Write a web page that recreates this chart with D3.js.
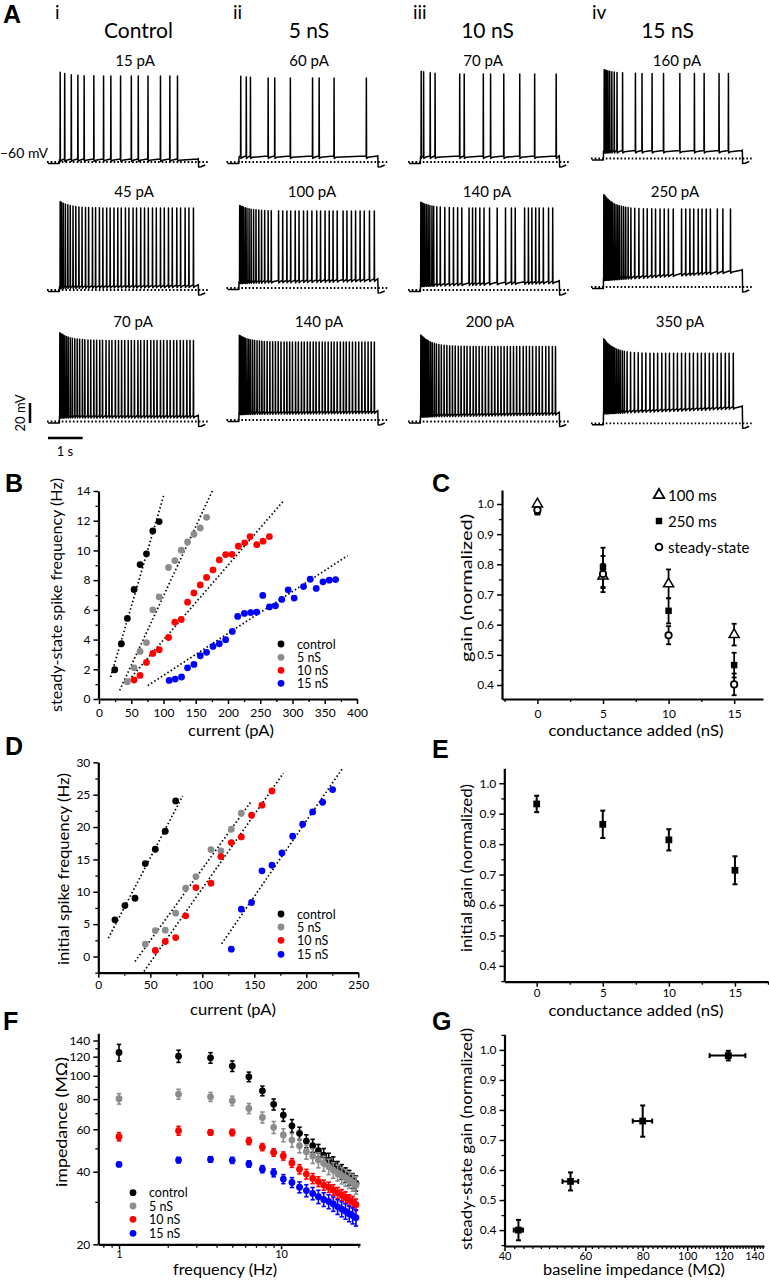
<!DOCTYPE html>
<html><head><meta charset="utf-8">
<script src="https://cdn.jsdelivr.net/npm/d3@7/dist/d3.min.js"></script>
<style>
html,body{margin:0;padding:0;background:#fff;}
svg{display:block;}
</style></head><body>
<svg id="fig" width="769" height="1280"></svg>
<script>
// ===================== DATA =====================
// ---- Panel A: example traces
const colTitles = ["Control", "5 nS", "10 nS", "15 nS"];
const colNumerals = ["i", "ii", "iii", "iv"];
const currentsRow1 = ["15 pA", "60 pA", "70 pA", "160 pA"];
const currentsRow2 = ["45 pA", "100 pA", "140 pA", "250 pA"];
const currentsRow3 = ["70 pA", "140 pA", "200 pA", "350 pA"];
// spike times (s after step onset); step lasts 4 s
const spikesR1C1 = [0.02,0.15,0.34,0.53,0.71,0.99,1.27,1.48,1.76,2.07,2.27,2.55,2.91,3.18,3.40];
const spikesR1C2 = [0.05,0.21,0.33,0.84,1.03,1.48,2.12,2.31,2.74,3.67];
const spikesR1C3 = [0.02,0.09,0.28,0.42,1.13,1.26,1.81,2.02,2.40,2.86,3.29,3.91];
const spikesR1C4 = [0.02,0.05,0.09,0.13,0.18,0.24,0.31,0.39,0.55,0.92,1.11,1.40,1.73,2.20,2.62,2.90,3.33,3.60];
const spikesR2C1 = [0.02,0.06,0.11,0.17,0.24,0.31,0.39,0.47,0.56,0.65,0.75,0.84,0.95,1.04,1.15,1.25,1.36,1.46,1.57,1.68,1.78,1.90,2.00,2.12,2.22,2.34,2.45,2.56,2.68,2.79,2.91,3.02,3.14,3.25,3.38,3.49,3.62,3.73,3.86];
const spikesR2C2 = [0.02,0.05,0.09,0.13,0.18,0.23,0.29,0.35,0.42,0.49,0.57,0.65,0.74,0.84,0.93,1.14,1.26,1.38,1.49,1.62,1.73,1.86,1.97,2.10,2.24,2.35,2.48,2.60,2.71,2.83,3.00,3.11,3.24,3.36,3.49,3.61,3.76,3.90];
const spikesR2C3 = [0.01,0.04,0.08,0.12,0.17,0.22,0.27,0.33,0.38,0.47,0.57,0.70,0.83,0.95,1.07,1.19,1.40,1.50,1.59,1.71,1.83,1.99,2.21,2.45,2.62,2.73,3.00,3.11,3.21,3.32,3.42,3.54,3.69,3.81];
const spikesR2C4 = [0.01,0.04,0.07,0.10,0.14,0.18,0.22,0.26,0.31,0.36,0.41,0.46,0.52,0.58,0.64,0.71,0.79,0.90,1.02,1.15,1.26,1.39,1.50,1.63,1.75,1.87,2.01,2.25,2.37,2.49,2.60,2.73,2.84,2.96,3.08,3.28,3.44,3.66];
const spikesR3C1 = [0.01,0.04,0.08,0.11,0.15,0.20,0.25,0.31,0.37,0.44,0.51,0.58,0.66,0.73,0.82,0.90,0.99,1.07,1.16,1.24,1.34,1.43,1.51,1.61,1.70,1.79,1.88,1.98,2.07,2.16,2.26,2.34,2.44,2.53,2.63,2.72,2.81,2.91,3.00,3.10,3.19,3.29,3.38,3.48,3.57,3.67,3.76,3.86];
const spikesR3C2 = [0.01,0.04,0.07,0.10,0.14,0.18,0.23,0.28,0.33,0.39,0.45,0.52,0.59,0.66,0.73,0.81,0.89,0.97,1.05,1.13,1.21,1.30,1.38,1.46,1.54,1.63,1.71,1.80,1.88,1.97,2.05,2.14,2.22,2.31,2.40,2.48,2.57,2.66,2.74,2.83,2.92,3.01,3.09,3.18,3.27,3.36,3.45,3.54,3.63,3.72,3.81,3.90];
const spikesR3C3 = [0.01,0.03,0.06,0.09,0.12,0.16,0.20,0.24,0.29,0.34,0.40,0.46,0.53,0.60,0.68,0.76,0.84,0.92,1.00,1.09,1.17,1.26,1.34,1.43,1.52,1.60,1.69,1.78,1.87,1.96,2.05,2.14,2.23,2.32,2.41,2.50,2.59,2.68,2.77,2.86,2.96,3.05,3.14,3.23,3.33,3.42,3.51,3.61,3.70,3.80,3.89];
const spikesR3C4 = [0.01,0.03,0.05,0.08,0.11,0.14,0.17,0.21,0.25,0.29,0.33,0.38,0.43,0.48,0.54,0.60,0.68,0.78,0.89,1.00,1.11,1.22,1.34,1.45,1.56,1.68,1.79,1.90,2.02,2.13,2.25,2.36,2.48,2.59,2.71,2.82,2.93,3.05,3.16,3.28,3.39,3.51,3.62,3.74];
// first / late spike peak (mV above -60 mV), plateau depolarisation at start / end of step (mV above -60 mV)
const peakFirstRow1 = [90, 86, 91, 89],   peakLateRow1 = [86, 84, 88, 85];
const peakFirstRow2 = [89, 83, 88, 93],   peakLateRow2 = [82, 77, 82, 78];
const peakFirstRow3 = [89, 85, 87, 85],   peakLateRow3 = [81, 78, 75, 70];
const plateauStartRow1 = [2, 5, 5, 7],    plateauEndRow1 = [2, 5, 5, 7];
const plateauStartRow2 = [3, 6, 5, 8],    plateauEndRow2 = [4, 8, 8, 16];
const plateauStartRow3 = [5, 7, 6, 11],   plateauEndRow3 = [5, 8, 8, 16];

// ---- legend / series
const seriesNames = ["control", "5 nS", "10 nS", "15 nS"];

// ---- Panel B: steady-state f-I
const bControlI = [24.4,34.7,44,54.4,63.7,73.6,83.4,93.3];
const bControlF = [1.97,3.72,5.42,7.37,9.05,9.77,11.31,11.94];
const b5nsI = [44,54.4,63.7,73.6,83.4,93.3,107.8,117.6,127.5,137.3,147.2,157,166.8];
const b5nsF = [1.16,2.1,3.2,3.8,6.0,6.87,8.85,9.32,10.02,10.57,11.09,11.51,12.23];
const b10nsI = [54.4,63.7,73.6,83.4,93.3,107.8,117.6,127.5,137.3,147.2,157,166.8,176.7,186.5,196.4,206.2,216.1,225.9,234.2,244.6,254.4,264.2];
const b10nsF = [1.28,1.59,2.46,3.07,3.32,4.14,5.17,5.35,6.52,7.14,7.68,8.18,8.69,9.36,9.72,9.74,10.28,10.51,10.93,10.39,10.62,10.93];
const b15nsI = [108.8,118.1,128,137.3,147.2,157,166.8,176.7,186.5,196.4,206.7,215,225.4,235.2,244.6,253.9,264.2,273.6,283.4,293.3,302.6,317.1,327.5,336.8,347.2,357,366.8];
const b15nsF = [1.25,1.34,1.48,2.1,2.33,2.91,3.14,3.54,3.72,3.99,4.55,5.56,5.76,5.82,5.85,6.97,6.2,6.27,6.7,7.35,6.79,7.57,8.06,7.44,7.89,8.0,8.04];
// linear fits [I1, f1, I2, f2]
const bFitControl = [18.1, 1.48, 100.5, 13.73];
const bFit5ns = [32, 0.58, 175.6, 14.0];
const bFit10ns = [42.5, 1.08, 285, 13.28];
const bFit15ns = [75.6, 0.9, 385.5, 9.65];
const bYTicks = [0,2,4,6,8,10,12,14];
const bXTicks = [0,50,100,150,200,250,300,350,400];

// ---- Panel C: gain vs conductance
const condAdded = [0, 5, 10, 15];
const gain100ms = [1.0, 0.761, 0.735, 0.567];
const gain100msErr = [0.005, 0.04, 0.048, 0.036];
const gain250ms = [0.975, 0.79, 0.646, 0.466];
const gain250msErr = [0.01, 0.065, 0.042, 0.041];
const gainSteady = [0.98, 0.768, 0.565, 0.402];
const gainSteadyErr = [0.01, 0.06, 0.03, 0.036];
const gainTicks = [0.4,0.5,0.6,0.7,0.8,0.9,1.0];
const gainLegend = ["100 ms", "250 ms", "steady-state"];

// ---- Panel D: initial f-I
const dControlI = [16,25.6,35.3,45.2,54.8,64.4,74.4];
const dControlF = [5.66,7.87,9.0,14.36,16.57,19.35,24.03];
const d5nsI = [45.2,54.8,64.4,74.4,84,93.9,108.3,117.9,127.9,137.5];
const d5nsF = [1.9,4.01,4.07,6.69,10.55,12.35,16.52,16.31,19.66,22.13];
const d10nsI = [54.8,64.4,74.4,84,93.9,108.3,117.9,127.9,137.5,147.4,157.4,167];
const d10nsF = [0.93,2.32,2.93,6.28,10.65,11.32,15.44,17.6,18.48,21.82,23.37,25.58];
const d15nsI = [127.9,137.5,147.4,157.4,167,176.6,186.9,196.5,206.1,215.7,225.3];
const d15nsF = [1.13,7.31,8.34,13.23,14.1,16.0,18.58,20.43,22.34,23.83,25.78];
const dFitControl = [9.6, 2.83, 81.1, 24.8];
const dFit5ns = [35.3, -0.77, 147.4, 24.03];
const dFit10ns = [43.9, -2.3, 177.9, 28.3];
const dFit15ns = [118.6, 1.96, 234.9, 29.08];
const dYTicks = [0,5,10,15,20,25,30];
const dXTicks = [0,50,100,150,200,250];

// ---- Panel E: initial gain
const initGain = [0.932, 0.865, 0.814, 0.714];
const initGainErr = [0.027, 0.045, 0.035, 0.046];

// ---- Panel F: impedance vs frequency
const freqHz = [1,2.33,3.67,5,6.33,7.67,9,10.33,11.67,13,14.33,15.67,17,18.33,19.67,21,22.33,23.67,25,26.33,27.67,29];
const zControl = [124.9,120.6,118.7,109.7,99.0,86.6,76.1,68.7,62.0,57.7,53.6,51.3,48.9,46.9,44.7,43.1,41.3,40.0,38.8,37.8,36.7,35.8];
const zControlErr = [10,7,6,5.5,4.5,4,4,4,3.8,3.5,3.3,3.2,3,3,3,3,2.8,2.8,2.7,2.7,2.6,2.6];
const z5ns = [80.3,83.9,81.8,78.8,73.2,67.2,61.1,56.8,54.1,51.3,48.4,46.5,44.7,43.3,42.0,40.6,39.6,38.6,37.8,37.0,36.1,35.2];
const z5nsErr = [4,4,3.5,3.5,3.5,3.5,3.5,3.5,3.5,3.4,3.3,3.2,3.2,3.1,3.1,3,3,3,3,2.9,2.9,2.9];
const z10ns = [55.9,59.2,58.2,58.2,53.6,50.6,48.1,46.5,43.5,41.0,39.1,37.5,36.4,35.2,34.5,33.6,32.7,32.0,31.3,30.5,30.0,29.2];
const z10nsErr = [2.2,2.5,1.5,1.8,1.8,1.7,1.7,1.8,1.8,1.8,1.8,1.8,1.7,1.7,1.7,1.7,1.7,1.7,1.7,1.6,1.6,1.6];
const z15ns = [42.9,44.7,45.0,44.6,43.1,41.0,39.6,37.3,36.1,34.5,33.4,32.5,31.5,30.7,30.1,29.4,28.6,28.0,27.4,26.8,26.3,25.8];
const z15nsErr = [0.8,1.2,1.2,1.3,1.3,1.4,1.5,1.6,1.7,1.8,1.9,1.9,2,2,2,2,2,2,2,2,2,2];
const fYTicks = [20,40,60,80,100,120,140];
const fXTicks = [1,10];

// ---- Panel G: steady-state gain vs baseline impedance
const baseImp = [42.9, 55.7, 80.0, 122.9];
const baseImpErr = [1.0, 2.2, 3.9, 11];
const ssGain = [0.40, 0.562, 0.763, 0.981];
const ssGainErr = [0.034, 0.03, 0.052, 0.016];
const gXTicks = [40,60,80,100,120,140];

// ===================== STYLE / LAYOUT =====================
const FONT = "Lato, 'Noto Sans', 'DejaVu Sans', sans-serif";
const BOLD = "'Liberation Sans', Arial, sans-serif";
const COLORS = ["#000000", "#8c8c8c", "#ff0000", "#0000ff"];
const svg = d3.select("#fig");
svg.append("rect").attr("width", 769).attr("height", 1280).attr("fill", "#fff");

function txt(x, y, s, size, o = {}) {
  const t = svg.append("text").attr("x", x).attr("y", y).text(s)
    .attr("font-family", o.family || FONT).attr("font-size", size)
    .attr("text-anchor", o.anchor || "middle").attr("fill", "#000");
  if (o.weight) t.attr("font-weight", o.weight);
  if (o.baseline) t.attr("dominant-baseline", o.baseline);
  if (o.len) t.attr("textLength", o.len).attr("lengthAdjust", "spacingAndGlyphs");
  return t;
}
function vtitle(cx, cy, s, size, len) {
  svg.append("text").attr("transform", `translate(${cx},${cy}) rotate(-90)`)
    .attr("text-anchor", "middle").attr("dominant-baseline", "central")
    .attr("font-family", FONT).attr("font-size", size)
    .attr("textLength", len).attr("lengthAdjust", "spacingAndGlyphs").text(s);
}
function drawAxis(orient, scale, pos, majors, minors, fmt, o = {}) {
  const mk = orient === "left" ? d3.axisLeft : d3.axisBottom;
  const g = svg.append("g").attr("transform", orient === "left" ? `translate(${pos},0)` : `translate(0,${pos})`);
  if (minors && minors.length) {
    const gm = g.append("g").call(mk(scale).tickValues(minors).tickFormat("").tickSizeInner(o.minorLen || 3).tickSizeOuter(0));
    gm.select(".domain").remove();
    gm.selectAll("line").attr("stroke-width", 1.3);
  }
  const ga = g.append("g").call(mk(scale).tickValues(majors).tickFormat(fmt).tickSizeInner(o.len || 5).tickSizeOuter(0).tickPadding(o.pad || 3));
  ga.select(".domain").attr("stroke-width", 2.2).attr("stroke", "#000");
  ga.selectAll(".tick line").attr("stroke-width", 1.5);
  ga.selectAll(".tick text").attr("font-family", FONT).attr("font-size", o.fs || 12).attr("fill", "#000");
  return g;
}
function panelLetter(x, y, s) { txt(x, y, s, 25, { family: BOLD, weight: "bold", anchor: "start" }); }

// ===================== PANEL A =====================
panelLetter(3, 23, "A");
const colX0 = [59.5, 239, 420.5, 603.5];
const rowBase = [[162, 162, 162, 158.5], [290, 288, 290, 287], [421.5, 420, 421.5, 423.3]];
const labelY = [66, 197, 327];
const labelX = [[135, 309, 483, 677], [134, 312, 487, 675], [133, 319, 490, 680]];
const spikeSets = [[spikesR1C1, spikesR1C2, spikesR1C3, spikesR1C4],
                   [spikesR2C1, spikesR2C2, spikesR2C3, spikesR2C4],
                   [spikesR3C1, spikesR3C2, spikesR3C3, spikesR3C4]];
const peakFirst = [peakFirstRow1, peakFirstRow2, peakFirstRow3];
const peakLate = [peakLateRow1, peakLateRow2, peakLateRow3];
const platStart = [plateauStartRow1, plateauStartRow2, plateauStartRow3];
const platEnd = [plateauEndRow1, plateauEndRow2, plateauEndRow3];
const currents = [currentsRow1, currentsRow2, currentsRow3];
const PX_PER_S = 34.7;

const numX = [55, 233, 413, 592];
colNumerals.forEach((s, c) => txt(numX[c], 19, s, 19, { anchor: "start" }));
const titleX = [138.5, 309, 487.5, 667.5];
colTitles.forEach((s, c) => txt(titleX[c], 38, s, 21));

function traceData(spk, pf, pl, p0, p1) {
  const rest = -61.5;
  const plat = t => -60 + p0 + (p1 - p0) * Math.max(0, Math.min(4, t)) / 4;
  const pts = [[-0.33, rest], [-0.004, rest], [0.0, plat(0)]];
  spk.forEach((t, i) => {
    const next = i < spk.length - 1 ? spk[i + 1] : 4.0;
    const pk = -60 + pl + (pf - pl) * Math.exp(-t / 0.3);
    pts.push([t - 0.005, plat(t) + 1.5]);
    pts.push([t, pk]);
    pts.push([t + 0.006, plat(t) - 1.5]);
    const gap = next - t;
    if (gap > 0.06) {
      pts.push([t + Math.min(0.05, gap * 0.3), plat(t) - 0.3]);
      pts.push([next - 0.012, plat(next) + 1]);
    }
  });
  pts.push([3.99, plat(4)], [4.0, plat(4) + 1.5], [4.01, rest - 3.5], [4.08, rest - 3.2], [4.2, rest - 1.5]);
  return pts;
}

for (let r = 0; r < 3; r++) {
  for (let c = 0; c < 4; c++) {
    const base = rowBase[r][c];
    const xs = d3.scaleLinear().domain([0, 4]).range([colX0[c], colX0[c] + 4 * PX_PER_S]);
    const ys = d3.scaleLinear().domain([-60, 40]).range([base, base - 100]);
    svg.append("line").attr("x1", xs(-0.36)).attr("x2", xs(4.3)).attr("y1", ys(-60)).attr("y2", ys(-60))
      .attr("stroke", "#000").attr("stroke-width", 1.8).attr("stroke-dasharray", "1.6,2.1");
    const line = d3.line().x(d => xs(d[0])).y(d => ys(d[1]));
    svg.append("path").attr("d", line(traceData(spikeSets[r][c], peakFirst[r][c], peakLate[r][c], platStart[r][c], platEnd[r][c])))
      .attr("fill", "none").attr("stroke", "#000").attr("stroke-width", 1.5).attr("stroke-linejoin", "round");
    txt(labelX[r][c], labelY[r], currents[r][c], 15);
  }
}
txt(48, 158, "\u221260 mV", 14, { anchor: "end" });
// scale bars
{
  const ys = d3.scaleLinear().domain([0, 20]).range([423, 403]);
  const xs = d3.scaleLinear().domain([0, 1]).range([48, 48 + PX_PER_S]);
  svg.append("line").attr("x1", 30).attr("x2", 30).attr("y1", ys(0)).attr("y2", ys(20)).attr("stroke", "#000").attr("stroke-width", 2.5);
  svg.append("line").attr("x1", xs(0)).attr("x2", xs(1)).attr("y1", 438).attr("y2", 438).attr("stroke", "#000").attr("stroke-width", 2.5);
  svg.append("text").attr("transform", "translate(20,413) rotate(-90)").attr("text-anchor", "middle").attr("dominant-baseline", "central")
    .attr("font-family", FONT).attr("font-size", 13).text("20 mV");
  txt(65, 456, "1 s", 13);
}

// ===================== helpers for scatter panels =====================
function legend(x, ys, r) {
  seriesNames.forEach((s, i) => {
    svg.append("circle").attr("cx", x).attr("cy", ys[i]).attr("r", r).attr("fill", COLORS[i]);
    txt(x + 16, ys[i], s, 12.5, { anchor: "start", baseline: "central" });
  });
}
function dots(xs, ys, X, Y, color, r) {
  svg.append("g").selectAll("circle").data(X).join("circle")
    .attr("cx", (d) => xs(d)).attr("cy", (d, i) => ys(Y[i])).attr("r", r).attr("fill", color);
}
function fitLine(xs, ys, f) {
  svg.append("line").attr("x1", xs(f[0])).attr("y1", ys(f[1])).attr("x2", xs(f[2])).attr("y2", ys(f[3]))
    .attr("stroke", "#000").attr("stroke-width", 1.7).attr("stroke-dasharray", "1.5,2.4");
}
function vErr(xs, ys, X, Y, E, color, sw, cap) {
  const g = svg.append("g").attr("stroke", color).attr("stroke-width", sw);
  X.forEach((x, i) => {
    const px = xs(x), lo = ys(Y[i] - E[i]), hi = ys(Y[i] + E[i]);
    g.append("line").attr("x1", px).attr("x2", px).attr("y1", lo).attr("y2", hi);
    g.append("line").attr("x1", px - cap).attr("x2", px + cap).attr("y1", lo).attr("y2", lo);
    g.append("line").attr("x1", px - cap).attr("x2", px + cap).attr("y1", hi).attr("y2", hi);
  });
}

// ===================== PANEL B =====================
panelLetter(5, 492, "B");
{
  const xs = d3.scaleLinear().domain([0, 400]).range([99, 357]);
  const ys = d3.scaleLinear().domain([0, 14]).range([699, 491]);
  drawAxis("left", ys, 98.5, bYTicks, [1,3,5,7,9,11,13], d3.format("d"), { pad: 3 });
  drawAxis("bottom", xs, 699, bXTicks, [25,75,125,175,225,275,325,375], d3.format("d"), { pad: 4 });
  [bFitControl, bFit5ns, bFit10ns, bFit15ns].forEach(f => fitLine(xs, ys, f));
  dots(xs, ys, bControlI, bControlF, COLORS[0], 3.4);
  dots(xs, ys, b5nsI, b5nsF, COLORS[1], 3.4);
  dots(xs, ys, b10nsI, b10nsF, COLORS[2], 3.4);
  dots(xs, ys, b15nsI, b15nsF, COLORS[3], 3.4);
  legend(281, [644, 657.3, 670.3, 683.3], 3.4);
  vtitle(55, 595, "steady-state spike frequency (Hz)", 16, 234);
  txt(231, 736, "current (pA)", 16, { len: 86 });
}

// ===================== PANEL C =====================
panelLetter(432, 492, "C");
{
  const xs = d3.scaleLinear().domain([-2.7, 17.2]).range([502, 763]);
  const ys = d3.scaleLinear().domain([0.3536, 1.0464]).range([699, 490]);
  drawAxis("left", ys, 502, gainTicks, [0.35,0.45,0.55,0.65,0.75,0.85,0.95,1.05].filter(v => v >= 0.3536 && v <= 1.0464), d3.format(".1f"), { pad: 3 });
  drawAxis("bottom", xs, 699, condAdded, [-2.5, 2.5, 7.5, 12.5], d3.format("d"), { pad: 5 });
  vErr(xs, ys, condAdded, gain100ms, gain100msErr, "#000", 1.8, 2.5);
  vErr(xs, ys, condAdded, gain250ms, gain250msErr, "#000", 1.8, 2.5);
  vErr(xs, ys, condAdded, gainSteady, gainSteadyErr, "#000", 1.8, 2.5);
  const tri = d3.symbol(d3.symbolTriangle).size(44);
  const sq = d3.symbol(d3.symbolSquare).size(42);
  svg.append("g").selectAll("path").data(condAdded).join("path")
    .attr("transform", (d, i) => `translate(${xs(d)},${ys(gain100ms[i])})`).attr("d", tri)
    .attr("fill", "#fff").attr("stroke", "#000").attr("stroke-width", 1.5);
  svg.append("g").selectAll("path").data(condAdded).join("path")
    .attr("transform", (d, i) => `translate(${xs(d)},${ys(gain250ms[i])})`).attr("d", sq).attr("fill", "#000");
  svg.append("g").selectAll("circle").data(condAdded).join("circle")
    .attr("cx", d => xs(d)).attr("cy", (d, i) => ys(gainSteady[i])).attr("r", 3.2)
    .attr("fill", "#fff").attr("stroke", "#000").attr("stroke-width", 1.8);
  // legend
  svg.append("path").attr("transform", "translate(659,495)").attr("d", d3.symbol(d3.symbolTriangle).size(48)).attr("fill", "#fff").attr("stroke", "#000").attr("stroke-width", 1.8);
  svg.append("path").attr("transform", "translate(659,521)").attr("d", sq).attr("fill", "#000");
  svg.append("circle").attr("cx", 659).attr("cy", 547).attr("r", 3.4).attr("fill", "#fff").attr("stroke", "#000").attr("stroke-width", 1.8);
  gainLegend.forEach((s, i) => txt(668, [495, 521, 547][i], s, 15, { anchor: "start", baseline: "central" }));
  vtitle(465, 588, "gain (normalized)", 16, 148);
  txt(636, 736, "conductance added (nS)", 16, { len: 175 });
}

// ===================== PANEL D =====================
panelLetter(5, 755, "D");
{
  const xs = d3.scaleLinear().domain([0, 250]).range([98.3, 358.3]);
  const ys = d3.scaleLinear().domain([-2.5, 30]).range([972.7, 762.3]);
  drawAxis("left", ys, 98.3, dYTicks, [-2.5,2.5,7.5,12.5,17.5,22.5,27.5], d3.format("d"), { pad: 3 });
  drawAxis("bottom", xs, 972.7, dXTicks, [25,75,125,175,225], d3.format("d"), { pad: 3 });
  [dFitControl, dFit5ns, dFit10ns, dFit15ns].forEach(f => fitLine(xs, ys, f));
  dots(xs, ys, dControlI, dControlF, COLORS[0], 3.4);
  dots(xs, ys, d5nsI, d5nsF, COLORS[1], 3.4);
  dots(xs, ys, d10nsI, d10nsF, COLORS[2], 3.4);
  dots(xs, ys, d15nsI, d15nsF, COLORS[3], 3.4);
  legend(281, [914, 927, 940.3, 954.3], 3.4);
  vtitle(62, 869, "initial spike frequency (Hz)", 16, 192);
  txt(233, 1015, "current (pA)", 15.5, { len: 86 });
}

// ===================== PANEL E =====================
panelLetter(432, 758, "E");
{
  const xs = d3.scaleLinear().domain([-2.45, 17.5]).range([504.3, 768]);
  const ys = d3.scaleLinear().domain([0.348, 1.049]).range([981.7, 768.3]);
  drawAxis("left", ys, 504.3, gainTicks, [0.35,0.45,0.55,0.65,0.75,0.85,0.95,1.05].filter(v => v >= 0.348 && v <= 1.049), d3.format(".1f"), { pad: 3 });
  drawAxis("bottom", xs, 981.7, condAdded, [-2.5, 2.5, 7.5, 12.5, 17.5].filter(v => v >= -2.45 && v <= 17.5), d3.format("d"), { pad: 2, fs: 11.5 });
  vErr(xs, ys, condAdded, initGain, initGainErr, "#000", 2, 2.5);
  svg.append("g").selectAll("path").data(condAdded).join("path")
    .attr("transform", (d, i) => `translate(${xs(d)},${ys(initGain[i])})`).attr("d", d3.symbol(d3.symbolSquare).size(46)).attr("fill", "#000");
  vtitle(465, 868, "initial gain (normalized)", 16, 168);
  txt(636, 1016, "conductance added (nS)", 15.5, { len: 175 });
}

// ===================== PANEL F =====================
panelLetter(3, 1030, "F");
{
  const xs = d3.scaleLog().domain([0.745, 30.7]).range([98.3, 360]);
  const ys = d3.scaleLog().domain([20, 150]).range([1244.3, 1033.3]);
  drawAxis("left", ys, 98.3, fYTicks, [30,50,70,90,110,130], d3.format("d"), { pad: 3, fs: 12 });
  drawAxis("bottom", xs, 1244.3, fXTicks, [0.8,0.9,2,3,4,5,6,7,8,9,20,30], d3.format("d"), { pad: 1, minorLen: 3.5, fs: 11 });
  const sets = [[zControl, zControlErr], [z5ns, z5nsErr], [z10ns, z10nsErr], [z15ns, z15nsErr]];
  sets.forEach((s, k) => {
    const g = svg.append("g").attr("stroke", COLORS[k]).attr("stroke-width", 1.6);
    freqHz.forEach((f, i) => {
      const px = xs(f), lo = ys(s[0][i] - s[1][i]), hi = ys(s[0][i] + s[1][i]);
      g.append("line").attr("x1", px).attr("x2", px).attr("y1", lo).attr("y2", hi);
      g.append("line").attr("x1", px - 2.2).attr("x2", px + 2.2).attr("y1", lo).attr("y2", lo);
      g.append("line").attr("x1", px - 2.2).attr("x2", px + 2.2).attr("y1", hi).attr("y2", hi);
    });
    dots(xs, ys, freqHz, s[0], COLORS[k], 3.4);
  });
  legend(133, [1192.7, 1206, 1219.3, 1233.3], 3.4);
  vtitle(60, 1122, "impedance (M\u03a9)", 16, 130);
  txt(225, 1275, "frequency (Hz)", 15.5, { len: 104 });
}

// ===================== PANEL G =====================
panelLetter(432, 1030, "G");
{
  const xs = d3.scaleLog().domain([40, 147]).range([504.5, 764]);
  const ys = d3.scaleLinear().domain([0.347, 1.052]).range([1246, 1034.3]);
  drawAxis("left", ys, 504.5, gainTicks, [0.35,0.45,0.55,0.65,0.75,0.85,0.95,1.05].filter(v => v >= 0.347 && v <= 1.052), d3.format(".1f"), { pad: 3 });
  drawAxis("bottom", xs, 1246, gXTicks, d3.range(42, 147, 2).filter(v => gXTicks.indexOf(v) < 0), d3.format("d"), { pad: 1, minorLen: 3, fs: 11 });
  vErr(xs, ys, baseImp, ssGain, ssGainErr, "#000", 2, 2.5);
  const g = svg.append("g").attr("stroke", "#000").attr("stroke-width", 2);
  baseImp.forEach((x, i) => {
    const py = ys(ssGain[i]), l = xs(x - baseImpErr[i]), r = xs(x + baseImpErr[i]);
    g.append("line").attr("x1", l).attr("x2", r).attr("y1", py).attr("y2", py);
    g.append("line").attr("x1", l).attr("x2", l).attr("y1", py - 2.5).attr("y2", py + 2.5);
    g.append("line").attr("x1", r).attr("x2", r).attr("y1", py - 2.5).attr("y2", py + 2.5);
  });
  svg.append("g").selectAll("path").data(baseImp).join("path")
    .attr("transform", (d, i) => `translate(${xs(d)},${ys(ssGain[i])})`).attr("d", d3.symbol(d3.symbolSquare).size(46)).attr("fill", "#000");
  vtitle(465, 1139, "steady-state gain (normalized)", 16, 222);
  txt(634, 1275, "baseline impedance (M\u03a9)", 15.5, { len: 182 });
}
</script></body></html>
